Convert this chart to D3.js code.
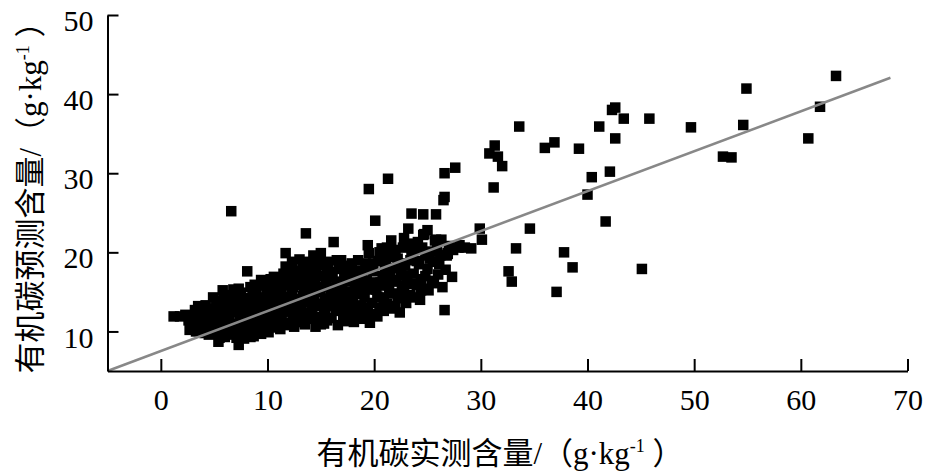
<!DOCTYPE html>
<html>
<head>
<meta charset="utf-8">
<script src="https://cdn.jsdelivr.net/npm/d3@7"></script>
<style>
  body { margin: 0; background: #fff; }
  svg text { font-family: "Liberation Serif", "Times New Roman", "Noto Sans CJK SC", serif; fill: #000; }
</style>
</head>
<body>
<div id="chart"></div>
<script>
const WIDTH = 926;
const HEIGHT = 476;

const samples = [
  [1.2,11.9],[1.8,11.9],[2.3,12.1],
  [2.7,10.2],[2.9,11.1],[3.0,10.6],[3.2,12.7],[3.4,11.4],[3.3,10.0],[3.6,12.9],
  [3.8,10.4],[3.9,11.6],[4.1,9.8],[4.2,13.3],[4.4,12.2],[4.3,10.9],[4.6,11.5],[4.5,9.6],
  [4.9,14.3],[4.8,10.3],[5.0,12.6],[5.1,11.2],[5.2,13.4],[5.4,8.7],[5.3,9.8],[5.5,10.8],[5.4,12.0],
  [5.8,15.2],[5.7,13.9],[5.9,11.6],[6.0,9.3],[6.1,12.8],[6.2,10.4],[6.3,14.1],[6.4,11.9],[6.0,13.2],
  [6.6,25.2],[6.7,9.6],[6.8,12.4],[6.9,14.6],[7.0,11.0],[7.1,13.5],[7.3,8.3],[7.2,10.2],[7.4,12.0],[7.5,14.9],[7.3,15.4],
  [7.8,9.1],[7.7,11.4],[7.9,13.0],[8.0,10.5],[8.1,17.6],[8.2,12.3],[8.3,14.2],[8.4,15.6],[8.0,9.8],[8.5,11.2],[8.5,13.6],
  [8.7,9.4],[8.8,12.0],[8.9,14.8],[9.0,10.6],[9.1,13.1],[9.2,15.8],[9.3,11.6],[9.4,16.5],[9.4,9.7],[9.5,12.7],[9.5,14.3],
  [9.7,10.9],[9.8,13.6],[9.9,15.2],[10.0,12.2],[10.1,9.9],[10.2,11.4],[10.3,14.5],[10.3,16.6],[10.4,13.0],[10.5,10.5],[10.5,15.7],
  [10.7,12.1],[10.8,14.0],[10.9,11.1],[11.0,16.2],[11.1,13.2],[11.2,10.3],[11.3,15.1],[11.4,12.4],[11.5,17.3],[11.5,14.4],[11.3,11.6],
  [11.7,19.9],[11.7,18.2],[11.8,13.6],[11.9,15.8],[12.0,10.8],[12.1,12.5],[12.2,16.9],[12.3,14.6],[12.4,11.7],[12.5,10.6],[12.5,13.3],[12.4,15.6],[12.2,17.8],
  [12.7,12.2],[12.8,17.7],[12.9,14.1],[13.0,11.2],[13.1,16.0],[13.2,13.0],[13.3,18.4],[13.4,15.1],[13.5,10.9],[13.5,12.3],[13.0,19.1],[13.3,14.5],
  [13.6,22.4],[13.7,16.7],[13.8,13.7],[13.9,11.6],[14.0,15.4],[14.1,17.8],[14.2,12.5],[14.3,19.6],[14.4,14.3],[14.5,10.6],[14.5,16.2],[14.2,13.3],
  [14.7,11.8],[14.8,18.4],[14.9,15.0],[15.0,19.9],[15.1,13.2],[15.2,17.0],[15.3,11.0],[15.4,14.1],[15.5,16.1],[15.4,12.3],[15.0,10.9],
  [15.7,18.8],[15.8,13.6],[15.9,15.4],[16.0,11.7],[16.1,17.5],[16.2,21.3],[16.3,14.6],[16.4,12.6],[16.5,19.0],[16.5,16.3],[16.6,10.8],
  [16.8,13.9],[16.9,19.0],[17.0,15.6],[17.1,12.0],[17.2,17.4],[17.3,14.4],[17.4,11.3],[17.5,16.5],[17.5,18.3],[17.2,13.1],
  [17.7,12.6],[17.8,15.0],[17.9,17.0],[18.0,13.8],[18.1,11.2],[18.2,16.0],[18.3,17.7],[18.4,14.7],[18.5,12.4],[18.5,19.0],
  [18.7,15.5],[18.8,13.3],[18.9,17.2],[19.0,11.6],[19.1,14.3],[19.2,18.6],[19.4,20.9],[19.5,19.9],[19.3,16.4],[19.5,28.0],[19.6,11.1],[19.4,12.7],
  [19.7,15.3],[19.8,13.6],[19.9,17.6],[20.1,24.0],[20.0,12.1],[20.2,16.2],[20.3,14.4],[20.4,18.9],[20.5,13.0],[20.5,20.0],
  [20.7,20.5],[20.7,14.3],[20.8,17.0],[20.9,12.6],[21.0,15.8],[21.1,18.3],[21.3,29.3],[21.2,13.5],[21.4,19.4],[21.5,16.9],
  [21.6,21.5],[21.7,14.8],[21.8,18.0],[21.9,20.3],[22.0,13.2],[22.1,16.5],[22.2,19.2],[22.4,12.4],[22.3,14.7],[22.5,17.6],
  [22.7,20.6],[22.8,15.3],[22.9,18.4],[23.0,13.6],[23.2,23.0],[23.3,21.1],[23.1,16.2],[23.4,19.0],[23.5,24.9],[23.4,14.6],
  [23.7,17.3],[23.8,14.3],[23.9,20.4],[24.0,15.9],[24.2,18.5],[24.4,16.6],[24.6,24.8],[24.6,22.2],[24.7,22.3],[24.3,14.0],
  [24.8,19.6],[24.9,15.4],[25.0,17.9],[25.1,15.2],[25.3,20.1],[25.4,16.4],[25.5,18.8],[25.7,21.5],[25.8,24.8],[25.8,21.6],
  [26.0,17.2],[26.2,19.6],[26.5,26.6],[26.6,27.0],[26.6,12.7],[26.8,19.6],[26.9,19.9],[27.3,16.9],[26.4,15.6],[26.6,30.0],[27.6,30.7],[26.9,19.8],
  [27.9,20.6],[28.0,20.9],[28.5,20.6],[29.1,20.5],[29.9,23.0],[30.1,21.6]
];

// second pass over the dense band, filling the gaps between the marks above
const denseBand = [
  [2.6,11.4],[3.1,12.0],[3.7,11.0],[4.0,12.6],[4.7,12.9],[4.2,10.2],[4.9,11.8],[5.1,10.0],[3.5,13.2],[2.8,10.7],
  [5.6,12.4],[5.6,11.3],[5.9,14.6],[6.2,9.9],[6.5,13.0],[6.6,10.9],[6.3,12.1],[5.5,9.2],[6.8,15.3],[6.9,10.6],[7.0,12.8],[7.6,13.8],[7.1,9.2],
  [7.6,10.6],[8.1,11.8],[8.3,12.8],[8.6,14.6],[8.6,10.1],[9.0,12.3],[9.1,11.2],[9.2,14.1],[9.6,13.1],[9.8,16.2],[9.7,11.8],[8.8,15.9],[8.4,9.3],[9.9,10.2],
  [10.1,13.8],[10.4,12.3],[10.6,11.3],[10.6,16.9],[10.9,15.0],[11.0,12.9],[11.2,14.0],[11.6,11.1],[11.6,16.3],[11.9,12.6],[12.0,14.0],[12.3,18.8],
  [12.6,11.2],[12.6,15.9],[12.9,16.5],[12.8,13.2],[13.2,17.4],[13.1,11.8],
  [13.4,13.9],[13.7,12.3],[13.9,18.8],[13.6,15.7],[14.1,14.6],[14.4,11.6],[14.6,17.3],[14.7,13.5],[14.9,19.1],[15.2,15.6],[15.3,12.6],[15.6,17.8],
  [15.6,11.4],[15.9,14.2],[15.9,16.8],[16.2,13.2],
  [16.4,15.5],[16.7,17.9],[16.9,12.8],[17.0,14.9],[17.3,16.3],[17.6,11.8],[17.6,14.0],[17.9,18.6],[18.1,12.8],[18.3,15.3],[18.6,16.6],[18.7,11.7],
  [18.9,14.8],[19.1,13.0],[19.2,17.8],[19.6,15.9],[19.7,12.2],[19.9,18.6],
  [20.2,15.3],[20.3,11.9],[20.6,16.2],[20.6,19.2],[20.9,13.8],[21.0,17.7],[21.2,20.6],[21.4,15.1],[21.6,12.9],[21.8,16.3],[22.0,19.6],[22.2,14.2],
  [22.4,18.6],[22.6,15.8],[22.8,21.8],[23.0,17.1],[23.2,14.4],[23.5,20.1],[23.6,16.0],[24.0,18.9],[24.1,21.3],
  [24.4,15.2],[24.5,20.6],[24.8,17.0],[25.0,22.8],[25.2,19.2],[25.6,16.1],[25.9,20.3],[26.1,18.5],[26.3,21.6],[26.7,17.8],[27.0,20.8],[27.4,20.3]
];

const outliers = [
  [31.2,28.2],[31.3,33.5],[30.8,32.5],[31.6,32.1],[32.0,30.9],[33.6,35.9],[36.0,33.2],[36.9,33.9],
  [39.2,33.1],[41.1,35.9],[42.3,38.0],[42.6,38.3],[43.4,36.9],[45.8,36.9],[42.6,34.4],[40.4,29.5],
  [42.1,30.2],[40.0,27.3],[41.7,23.9],[34.6,23.0],[33.3,20.5],[37.8,20.0],[38.6,18.1],[32.6,17.6],
  [32.9,16.3],[37.1,15.0],[45.1,17.9],[49.7,35.8],[54.9,40.7],[54.6,36.1],[52.7,32.1],[53.5,32.0],
  [63.3,42.3],[61.8,38.4],[60.7,34.4]
];

const xTicks = [0, 10, 20, 30, 40, 50, 60, 70];
const yTicks = [10, 20, 30, 40, 50];

// fitted line y = a + b x
const fitIntercept = 7.53;
const fitSlope = 0.505;
const fitRange = [-5, 68.4];

const svg = d3.select("#chart")
    .append("svg")
    .attr("width", WIDTH)
    .attr("height", HEIGHT);

var x = d3.scaleLinear().domain([-5, 70]).range([107.5, 907.5]),
    y = d3.scaleLinear().domain([5, 50]).range([371, 15]);

// points
const SIZE = 10.5;
svg.append("g")
    .selectAll("rect")
    .data(samples.concat(denseBand, outliers))
    .enter()
    .append("rect")
    .attr("x", d => x(d[0]) - SIZE / 2)
    .attr("y", d => y(d[1]) - SIZE / 2)
    .attr("width", SIZE)
    .attr("height", SIZE)
    .attr("fill", "#000");

// regression line
svg.append("line")
    .attr("x1", x(fitRange[0]))
    .attr("y1", y(fitIntercept + fitSlope * fitRange[0]))
    .attr("x2", x(fitRange[1]))
    .attr("y2", y(fitIntercept + fitSlope * fitRange[1]))
    .attr("stroke", "#888")
    .attr("stroke-width", 2.5);

// axes, ticks pointing inwards
var xAxis = svg.append("g")
    .attr("transform", "translate(0," + y(5) + ")")
    .call(d3.axisBottom(x).tickValues(xTicks).tickSizeInner(-12).tickSizeOuter(0).tickPadding(18));

var yAxis = svg.append("g")
    .attr("transform", "translate(" + x(-5) + ",0)")
    .call(d3.axisLeft(y).tickValues(yTicks).tickSizeInner(-11).tickSizeOuter(0).tickPadding(14));

[xAxis, yAxis].forEach(a => {
    a.select(".domain").attr("stroke", "#000").attr("stroke-width", 2);
    a.selectAll(".tick line").attr("stroke", "#000").attr("stroke-width", 2);
    a.selectAll(".tick text")
        .attr("font-family", null)
        .attr("font-size", 30);
});
yAxis.selectAll(".tick text").attr("dy", "0.52em");

// axis titles
function title(sel, name) {
    sel.append("tspan").text(name + "/（g·kg");
    sel.append("tspan").text("-1").attr("font-size", 18).attr("dy", -12);
    sel.append("tspan").text(" ）").attr("dy", 12);
}

svg.append("text")
    .attr("x", 500)
    .attr("y", 464)
    .attr("text-anchor", "middle")
    .attr("font-size", 31)
    .call(title, "有机碳实测含量");

svg.append("text")
    .attr("transform", "translate(41,190) rotate(-90)")
    .attr("text-anchor", "middle")
    .attr("font-size", 31)
    .call(title, "有机碳预测含量");
</script>
</body>
</html>
